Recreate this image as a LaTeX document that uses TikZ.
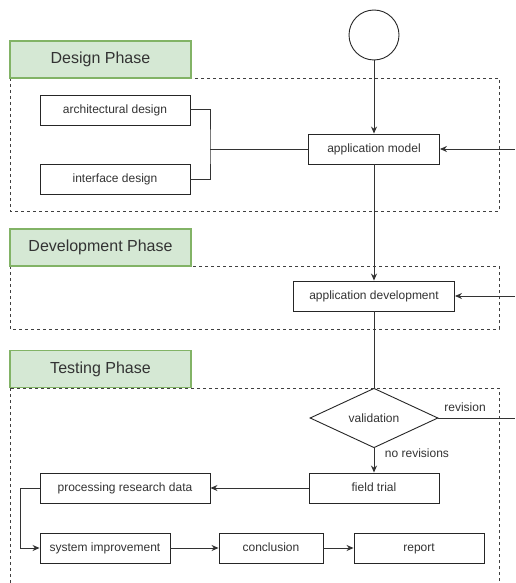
\documentclass[tikz,border=0pt]{standalone}
\usepackage{fontspec}
\setmainfont{Liberation Sans}
\usetikzlibrary{arrows.meta,shapes.geometric}
\definecolor{phasefill}{HTML}{D5E8D4}
\definecolor{phasedraw}{HTML}{82B366}
\definecolor{txt}{HTML}{333333}
\begin{document}
\begin{tikzpicture}[x=1pt,y=-1pt,
  box/.style={draw=black!85, line width=0.9pt, fill=white, rectangle, inner sep=0pt, text=txt, font=\fontsize{12}{14}\selectfont, minimum height=30pt, text height=8.6pt, text depth=2.4pt},
  phase/.style={draw=phasedraw, fill=phasefill, line width=1.2pt, inner sep=0pt, minimum width=181pt, minimum height=37pt, font=\fontsize{16}{19}\selectfont, text=txt, text height=11.5pt, text depth=3.2pt},
  cont/.style={draw=black!75, dash pattern=on 3pt off 3pt, line width=0.9pt},
  conn/.style={draw=black!80, line width=1pt},
  arr/.style={conn, -{Stealth[length=7pt,width=6pt]}},
  lbl/.style={text=txt, font=\fontsize{12}{14}\selectfont, inner sep=1pt}]
\clip (0,0) rectangle (515,583);
\fill[white] (0,0) rectangle (515,583);
% containers
\draw[cont] (10,78) rectangle (499,211);
\draw[cont] (10,266) rectangle (499,329);
\draw[cont] (10,388) rectangle (499,600);
% phase labels
\node[phase] (dph) at (100.5,59.5) {Design Phase};
\node[phase] (vph) at (100.5,247.5) {Development Phase};
\node[phase] (tph) at (100.5,369) {Testing Phase};
% nodes
\node[circle, draw=black!85, line width=0.9pt, fill=white, minimum size=50pt, inner sep=0pt] (start) at (374,35) {};
\node[box, minimum width=150pt] (arch) at (115,110) {architectural design};
\node[box, minimum width=150pt] (iface) at (115,179) {interface design};
\node[box, minimum width=131pt] (model) at (374,149) {application model};
\node[box, minimum width=161pt] (dev) at (374,296) {application development};
\node[diamond, draw=black!85, line width=0.9pt, fill=white, minimum width=128pt, minimum height=50pt, inner sep=0pt, text=txt, font=\fontsize{12}{14}\selectfont] (valid) at (374,418) {validation};
\node[box, minimum width=130pt] (field) at (374,488) {field trial};
\node[box, minimum width=170pt] (proc) at (125,488) {processing research data};
\node[box, minimum width=130pt] (sys) at (105,548) {system improvement};
\node[box, minimum width=104pt] (concl) at (271,548) {conclusion};
\node[box, minimum width=130pt] (report) at (419,548) {report};
% free ends
\coordinate (inA) at (515,149);
\coordinate (inB) at (515,296);
\coordinate (outR) at (515,418);
\coordinate (jn) at (210,149);
\coordinate (loop) at (20,488);
% connectors
\draw[arr] (start.south) -- (model.north);
\draw[arr] (inA) -- (model.east);
\draw[conn] (arch.east) -| (jn) |- (iface.east);
\draw[conn] (jn) -- (model.west);
\draw[arr] (model.south) -- (dev.north);
\draw[arr] (inB) -- (dev.east);
\draw[conn] (dev.south) -- (valid.north);
\draw[conn] (valid.east) -- (outR);
\node[lbl] (revlbl) at (465,407) {revision};
\draw[arr] (valid.south) -- (field.north);
\node[lbl] (norev) at (417,453) {no revisions};
\draw[arr] (field.west) -- (proc.east);
\draw[arr] (proc.west) -- (loop) |- (sys.west);
\draw[arr] (sys.east) -- (concl.west);
\draw[arr] (concl.east) -- (report.west);
\end{tikzpicture}
\end{document}
